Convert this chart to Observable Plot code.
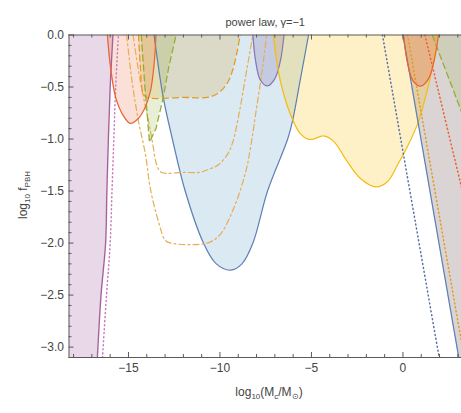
<!DOCTYPE html>
<html><head><meta charset="utf-8">
<script src="https://cdn.jsdelivr.net/npm/d3@7"></script>
<script src="https://cdn.jsdelivr.net/npm/@observablehq/plot@0.6"></script>
<style>
body{margin:0;background:#fff;font-family:"Liberation Sans",Arial,sans-serif}
#chart svg{display:block}
</style>
</head><body><div id="chart"></div>
<script>
// ---- axes ----
const xDomain = [-18.25, 3.2];
const yDomain = [-3.1, 0];
const xMajorTicks = [-15, -10, -5, 0];
const xMinorTicks = [-18,-17,-16,-14,-13,-12,-11,-9,-8,-7,-6,-4,-3,-2,-1,1,2,3];
const yMajorTicks = [0, -0.5, -1, -1.5, -2, -2.5, -3];
const yMinorTicks = [-0.1,-0.2,-0.3,-0.4,-0.6,-0.7,-0.8,-0.9,-1.1,-1.2,-1.3,-1.4,-1.6,-1.7,-1.8,-1.9,-2.1,-2.2,-2.3,-2.4,-2.6,-2.7,-2.8,-2.9,-3.1];
const titleText = "power law, γ=−1";

// ---- constraint curves [log10 Mc, log10 fPBH] ----
const purpleEdge   = [[-16.7,-3.1],[-16.5,-2.5],[-16.25,-2.0],[-16.18,-1.5],[-16.1,-1.0],[-16.0,-0.5],[-15.85,0]];
const purpleDotted = [[-16.42,-3.1],[-16.2,-2.5],[-16.0,-2.0],[-15.9,-1.5],[-15.8,-1.0],[-15.7,-0.5],[-15.55,0]];
const redLeft      = [[-16.15,0],[-16.0,-0.28],[-15.7,-0.6],[-15.3,-0.77],[-14.9,-0.85],[-14.45,-0.8],[-14.1,-0.7],[-13.8,-0.54],[-13.6,-0.28],[-13.5,0]];
const greenLeft    = [[-14.3,0],[-14.1,-0.5],[-13.85,-1.03],[-13.5,-0.9],[-13.1,-0.6],[-12.8,-0.31],[-12.4,0]];
const orangeA      = [[-14.45,0],[-14.35,-0.3],[-14.2,-0.56],[-14.0,-0.6],[-12.0,-0.6],[-10.7,-0.6],[-10.2,-0.57],[-9.8,-0.51],[-9.5,-0.43],[-9.26,-0.31],[-9.05,-0.15],[-8.9,0]];
const orangeB      = [[-14.75,0],[-14.35,-0.45],[-13.9,-0.83],[-13.7,-1.02],[-13.45,-1.25],[-13.2,-1.32],[-12.0,-1.32],[-11.1,-1.32],[-10.6,-1.29],[-10.1,-1.25],[-9.6,-1.15],[-9.3,-1.03],[-8.95,-0.75],[-8.6,-0.4],[-8.2,0]];
const orangeC      = [[-15.1,0],[-14.8,-0.45],[-14.45,-0.83],[-14.07,-1.15],[-13.8,-1.48],[-13.35,-1.8],[-13.0,-1.97],[-12.7,-2.0],[-10.7,-2.0],[-10.0,-1.92],[-9.26,-1.67],[-8.6,-1.32],[-8.3,-1.05],[-8.0,-0.7],[-7.7,-0.35],[-7.45,0]];
const blueBig      = [[-13.6,0],[-13.1,-0.6],[-12.6,-1.0],[-11.9,-1.5],[-10.9,-2.0],[-10.2,-2.2],[-9.43,-2.26],[-8.8,-2.2],[-8.2,-2.0],[-7.4,-1.5],[-6.3,-1.0],[-6.04,-0.83],[-5.6,-0.42],[-5.16,0]];
const purpleSmall  = [[-8.2,0],[-8.05,-0.25],[-7.8,-0.43],[-7.4,-0.49],[-7.0,-0.42],[-6.7,-0.25],[-6.5,0]];
const yellowEdge   = [[-7.08,0],[-6.7,-0.44],[-6.04,-0.81],[-5.6,-0.95],[-5.2,-1.0],[-4.9,-1.0],[-4.35,-0.97],[-3.8,-1.02],[-3.03,-1.22],[-2.32,-1.38],[-1.5,-1.46],[-0.85,-1.41],[-0.3,-1.25],[0.25,-1.07],[0.85,-0.83],[1.3,-0.55],[1.6,-0.32],[1.78,-0.15],[1.94,0]];
const redRight     = [[0.03,0],[0.25,-0.27],[0.55,-0.44],[1.0,-0.49],[1.4,-0.42],[1.7,-0.25],[1.94,0]];
const grayEdge     = [[0,0],[3.05,-3.1]];
const greenRight   = [[1.6,0],[3.25,-0.76]];
const blueDotted   = [[-1.12,0],[1.98,-3.1]];
const orangeDotted = [[0.25,0],[3.25,-3.0]];
const redDotted    = [[1.2,0],[3.25,-1.5]];

const X = d => d[0], Y = d => d[1];
const top0 = () => 0;
const xLeft = () => xDomain[0], xRight = () => xDomain[1];

const fillArea = (data, color, op, curve="catmull-rom") =>
  Plot.areaY(data, {x: X, y1: Y, y2: top0, fill: color, fillOpacity: op, curve, clip: true});
const edge = (data, color, extra={}) =>
  Plot.line(data, {x: X, y: Y, stroke: color, strokeWidth: 1.25, curve: "catmull-rom", clip: true, ...extra});

const dashed = {strokeDasharray: "6,4", strokeWidth: 1.3};
const dashDot = {strokeDasharray: "6,3,2,3", strokeWidth: 1.2};
const dotted = {strokeDasharray: "1,3", strokeLinecap: "round", strokeWidth: 1.5};

const frameColor = "#5a5a5a";
const xTickMaj = 5/104, xTickMin = 3/104;   // tick lengths in y units
const yTickMaj = 5/18.3, yTickMin = 3/18.3; // tick lengths in x units

const chart = Plot.plot({
  width: 461, height: 413,
  marginLeft: 68.5, marginRight: 0, marginTop: 34.5, marginBottom: 56,
  style: {fontFamily: "'Liberation Sans', Arial, sans-serif", background: "#fff"},
  x: {domain: xDomain},
  y: {domain: yDomain},
  marks: [
    // fills
    Plot.areaX(purpleEdge, {y: Y, x1: xLeft, x2: X, fill: "#A5609D", fillOpacity: 0.24, curve: "catmull-rom", clip: true}),
    Plot.areaX(grayEdge, {y: Y, x1: X, x2: xRight, fill: "#a39393", fillOpacity: 0.4, clip: true}),
    fillArea(greenRight, "#8FB032", 0.15, "linear"),
    fillArea(blueBig, "#5D9EC7", 0.23),
    fillArea(orangeA, "#E19C24", 0.2),
    fillArea(greenLeft, "#8FB032", 0.2, "linear"),
    fillArea(redLeft, "#EB6235", 0.2),
    fillArea(purpleSmall, "#8778B3", 0.26),
    fillArea(yellowEdge, "#FFBF00", 0.22),
    fillArea(redRight, "#EB6235", 0.25),
    // lines
    edge(purpleEdge, "#A5609D", {strokeWidth: 1.4}),
    edge(purpleDotted, "#C77BC0", dotted),
    edge(blueBig, "#5E81B5"),
    edge(orangeC, "#E8AC52", dashDot),
    edge(orangeB, "#E8AC52", dashDot),
    edge(orangeA, "#E19C24", dashed),
    edge(greenLeft, "#8FB032", {...dashed, curve: "linear"}),
    edge(redLeft, "#EB6235"),
    edge(purpleSmall, "#8778B3"),
    edge(yellowEdge, "#F5BC10"),
    edge(grayEdge, "#5E81B5", {curve: "linear"}),
    edge(blueDotted, "#5E6FA8", {...dotted, curve: "linear"}),
    edge(orangeDotted, "#E19C24", {...dotted, curve: "linear"}),
    edge(redDotted, "#EB6235", {...dotted, curve: "linear"}),
    edge(greenRight, "#8FB032", {...dashed, curve: "linear"}),
    edge(redRight, "#EB6235"),
    // frame
    Plot.ruleY([yDomain[1]], {stroke: frameColor, strokeWidth: 1}),
    Plot.ruleY([yDomain[0]], {stroke: frameColor, strokeWidth: 1}),
    Plot.ruleX([xDomain[0]], {stroke: frameColor, strokeWidth: 1}),
    // ticks bottom & top
    Plot.ruleX(xMajorTicks, {x: d => d, y1: yDomain[0], y2: yDomain[0] + xTickMaj, stroke: frameColor}),
    Plot.ruleX(xMinorTicks, {x: d => d, y1: yDomain[0], y2: yDomain[0] + xTickMin, stroke: frameColor}),
    Plot.ruleX(xMajorTicks, {x: d => d, y1: yDomain[1], y2: yDomain[1] - xTickMaj, stroke: frameColor}),
    Plot.ruleX(xMinorTicks, {x: d => d, y1: yDomain[1], y2: yDomain[1] - xTickMin, stroke: frameColor}),
    // ticks left
    Plot.ruleY(yMajorTicks, {y: d => d, x1: xDomain[0], x2: xDomain[0] + yTickMaj, stroke: frameColor}),
    Plot.ruleY(yMinorTicks, {y: d => d, x1: xDomain[0], x2: xDomain[0] + yTickMin, stroke: frameColor}),
    // tick labels
    Plot.axisX({ticks: xMajorTicks, tickSize: 0, tickPadding: 6, tickFormat: d3.format("d"), fontSize: 12, color: "#444", label: null}),
    Plot.axisY({ticks: yMajorTicks, tickSize: 0, tickPadding: 5, tickFormat: d3.format(".1f"), fontSize: 12, color: "#444", label: null}),
    // title
    Plot.text([titleText], {frameAnchor: "top", dy: -17, fontSize: 11, fill: "#444"})
  ]
});

document.getElementById("chart").appendChild(chart);

// axis labels with subscripts
const svg = d3.select(chart);
const xl = svg.append("text").attr("x", 269).attr("y", 396).attr("text-anchor", "middle")
  .attr("font-size", 12).attr("fill", "#444");
xl.append("tspan").text("log");
xl.append("tspan").attr("dy", 3).attr("font-size", 8).text("10");
xl.append("tspan").attr("dy", -3).text("(M");
xl.append("tspan").attr("dy", 3).attr("font-size", 8).text("c");
xl.append("tspan").attr("dy", -3).text("/M");
xl.append("tspan").attr("dy", 3).attr("font-size", 8).text("⊙");
xl.append("tspan").attr("dy", -3).text(")");

const yl = svg.append("text").attr("transform", "translate(27,195) rotate(-90)").attr("text-anchor", "middle")
  .attr("font-size", 12).attr("fill", "#444");
yl.append("tspan").text("log");
yl.append("tspan").attr("dy", 3).attr("font-size", 8).text("10");
yl.append("tspan").attr("dy", -3).text(" f");
yl.append("tspan").attr("dy", 3).attr("font-size", 8).text("PBH");
</script>
</body></html>
